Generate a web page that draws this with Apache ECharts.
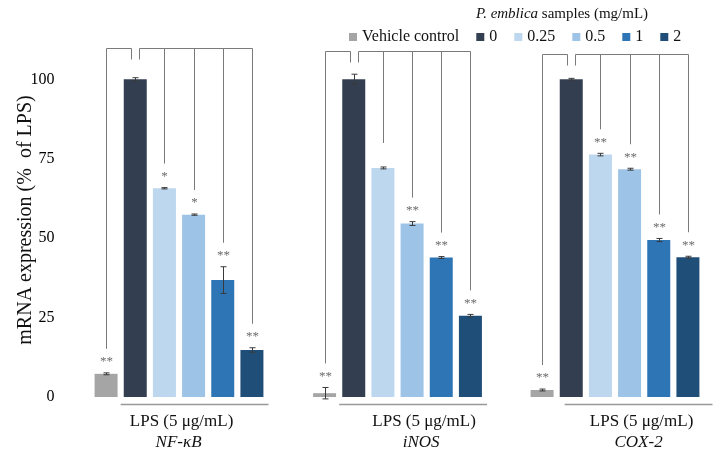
<!DOCTYPE html>
<html>
<head>
<meta charset="utf-8">
<script src="https://cdn.jsdelivr.net/npm/echarts@6/dist/echarts.min.js"></script>
<style>
html,body{margin:0;padding:0;background:#fff;}
#chart{width:721px;height:456px;}
</style>
</head>
<body>
<div id="chart"></div>
<script>
// ---- data ----
const categories = ['Vehicle control', '0', '0.25', '0.5', '1', '2'];
const genes = ['NF-κB', 'iNOS', 'COX-2'];
const groupLabel = 'LPS (5 μg/mL)';
const legendTitle = 'P. emblica';
const legendTitleRest = ' samples (mg/mL)';
const yAxisTitle = 'mRNA expression (%  of LPS)';
const yTicks = [0, 25, 50, 75, 100];

const nfkbValues = [7.3, 100, 65.7, 57.4, 36.8, 14.8];
const nfkbErrors = [0.3, 0.5, 0.2, 0.2, 4.2, 0.7];
const nfkbSig = ['**', '', '*', '*', '**', '**'];

const inosValues = [1.2, 100, 72.1, 54.6, 43.9, 25.6];
const inosErrors = [1.8, 1.6, 0.3, 0.6, 0.3, 0.4];
const inosSig = ['**', '', '', '**', '**', '**'];

const cox2Values = [2.2, 100, 76.3, 71.7, 49.4, 44.0];
const cox2Errors = [0.3, 0.3, 0.4, 0.3, 0.5, 0.3];
const cox2Sig = ['**', '', '**', '**', '**', '**'];

// ---- styling / layout ----
const COLORS = ['#a5a5a5', '#333f50', '#bdd7ee', '#9dc3e6', '#2e75b6', '#1f4e79'];
const SERIF = '"Liberation Serif", "Times New Roman", serif';
const panelValues = [nfkbValues, inosValues, cox2Values];
const panelErrors = [nfkbErrors, inosErrors, cox2Errors];
const panelSig = [nfkbSig, inosSig, cox2Sig];
const gridLefts = [91.5, 310, 527.5];
const bracketTops = [110, 109, 108];      // value units
const lineShift = [0, 0, 8];              // px shift of LPS underline
const labelShift = [-12, 12, 12];         // px shift of labels vs. middle bar

const chart = echarts.init(document.getElementById('chart'), null, {renderer: 'canvas'});

const grids = [], xAxes = [], yAxes = [], series = [];
for (let p = 0; p < 3; p++) {
  grids.push({left: gridLefts[p], top: 79.3, width: 175, height: 317.7});
  xAxes.push({type: 'category', gridIndex: p, data: categories, show: false});
  yAxes.push({
    type: 'value', gridIndex: p, min: 0, max: 100, interval: 25, show: p === 0,
    axisLine: {show: false}, axisTick: {show: false}, splitLine: {show: false},
    axisLabel: {show: p === 0, fontFamily: SERIF, fontSize: 16, color: '#000', margin: 37,
      formatter: v => yTicks.indexOf(v) >= 0 ? String(v) : ''}
  });
  const vals = panelValues[p], errs = panelErrors[p], sig = panelSig[p];
  categories.forEach((c, i) => {
    series.push({
      type: 'bar', name: c, xAxisIndex: p, yAxisIndex: p, stack: 'panel' + p,
      barWidth: 23, itemStyle: {color: COLORS[i]}, silent: true,
      data: categories.map((cc, j) => j === i ? vals[i] : '-')
    });
  });
  // error bars + significance marks
  series.push({
    type: 'custom', name: 'err' + p, xAxisIndex: p, yAxisIndex: p, clip: false, silent: true, z: 5,
    data: vals.map((v, i) => [i, v, errs[i]]),
    encode: {x: 0, y: 1},
    renderItem: (params, api) => {
      const i = api.value(0), v = api.value(1), e = api.value(2);
      const t = api.coord([i, v + e]), b = api.coord([i, v - e]);
      const x = Math.round(t[0]) + 0.5;
      const st = {stroke: '#3a3a3a', lineWidth: 1};
      const ch = [
        {type: 'line', shape: {x1: x, y1: t[1], x2: x, y2: b[1]}, style: st},
        {type: 'line', shape: {x1: x - 3, y1: t[1], x2: x + 3, y2: t[1]}, style: st},
        {type: 'line', shape: {x1: x - 3, y1: b[1], x2: x + 3, y2: b[1]}, style: st}
      ];
      if (sig[i]) ch.push({type: 'text', x: x, y: t[1] - 11, style: {text: sig[i], fontFamily: SERIF, fontSize: 13, fill: '#6b6b6b', align: 'center', verticalAlign: 'middle'}});
      return {type: 'group', children: ch};
    }
  });
  // brackets, LPS underline and labels
  series.push({
    type: 'custom', name: 'brk' + p, xAxisIndex: p, yAxisIndex: p, clip: false, silent: true, z: 4,
    data: [[3, 0]],
    encode: {x: 0, y: 1},
    renderItem: (params, api) => {
      const st = {stroke: '#7a7a7a', lineWidth: 1};
      const topY = Math.round(api.coord([0, bracketTops[p]])[1]) + 0.5;
      const stubY = topY + 11;
      const cx = i => Math.round(api.coord([i, 0])[0]) + 0.5;
      const endY = i => api.coord([i, vals[i] + errs[i]])[1] - 24;
      const ch = [];
      const dark = cx(1);
      // left bracket: vehicle vs LPS
      ch.push({type: 'line', shape: {x1: cx(0), y1: endY(0), x2: cx(0), y2: topY}, style: st});
      ch.push({type: 'line', shape: {x1: cx(0), y1: topY, x2: dark - 4, y2: topY}, style: st});
      ch.push({type: 'line', shape: {x1: dark - 4, y1: topY, x2: dark - 4, y2: stubY}, style: st});
      // right bracket: LPS vs samples
      ch.push({type: 'line', shape: {x1: dark + 4, y1: stubY, x2: dark + 4, y2: topY}, style: st});
      ch.push({type: 'line', shape: {x1: dark + 4, y1: topY, x2: cx(5), y2: topY}, style: st});
      for (let i = 2; i < 6; i++) {
        ch.push({type: 'line', shape: {x1: cx(i), y1: topY, x2: cx(i), y2: endY(i)}, style: st});
      }
      // LPS underline
      const band = api.size([1, 0])[0];
      const baseY = api.coord([0, 0])[1];
      const lx1 = api.coord([1, 0])[0] - band / 2 + lineShift[p];
      const lx2 = api.coord([5, 0])[0] + band / 2 + 2 + lineShift[p];
      ch.push({type: 'line', shape: {x1: lx1, y1: baseY + 7.5, x2: lx2, y2: baseY + 7.5}, style: {stroke: '#999', lineWidth: 1.5}});
      const mx = api.coord([3, 0])[0] + labelShift[p];
      ch.push({type: 'text', x: mx, y: baseY + 25, style: {text: groupLabel, fontFamily: SERIF, fontSize: 17, fill: '#111', align: 'center', verticalAlign: 'middle'}});
      ch.push({type: 'text', x: mx - 3, y: baseY + 46, style: {text: genes[p], fontFamily: SERIF, fontSize: 17, fontStyle: 'italic', fill: '#111', align: 'center', verticalAlign: 'middle'}});
      return {type: 'group', children: ch};
    }
  });
}

chart.setOption({
  animation: false,
  backgroundColor: '#fff',
  grid: grids,
  xAxis: xAxes,
  yAxis: yAxes,
  legend: {
    data: categories, left: 344, top: 24, icon: 'rect', itemWidth: 8, itemHeight: 8,
    itemGap: 17, selectedMode: false,
    textStyle: {fontFamily: SERIF, fontSize: 16, color: '#111'}
  },
  graphic: [
    {type: 'text', x: 562, y: 14, style: {
      text: '{i|' + legendTitle + '}' + legendTitleRest,
      rich: {i: {fontStyle: 'italic', fontFamily: SERIF, fontSize: 15, fill: '#111'}},
      fontFamily: SERIF, fontSize: 15, fill: '#111', align: 'center', verticalAlign: 'middle'}},
    {type: 'text', x: 26, y: 220, rotation: Math.PI / 2, style: {
      text: yAxisTitle, fontFamily: SERIF, fontSize: 20, fill: '#111', align: 'center', verticalAlign: 'middle'}}
  ],
  series: series
});
</script>
</body>
</html>
